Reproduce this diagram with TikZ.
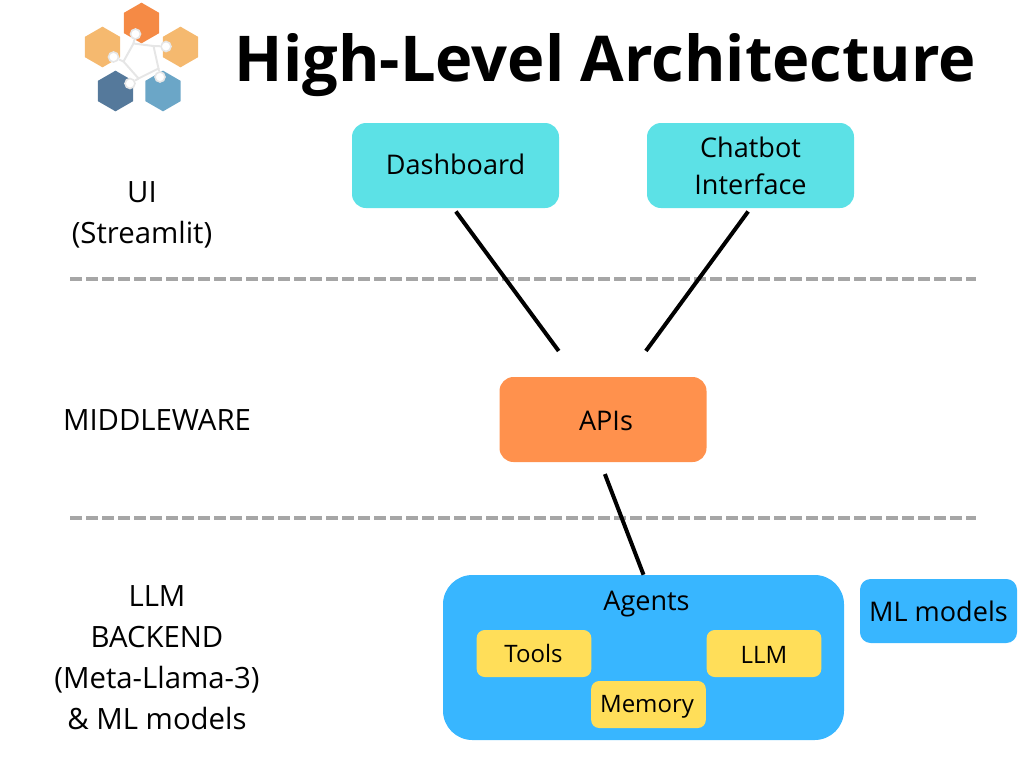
\documentclass[tikz,border=0pt]{standalone}
\usepackage{fontspec}
\setmainfont{Open Sans}
\usetikzlibrary{shapes.geometric, calc, positioning}
\definecolor{uicyan}{HTML}{5CE1E6}
\definecolor{midorange}{HTML}{FF914D}
\definecolor{backblue}{HTML}{38B6FF}
\definecolor{toolyellow}{HTML}{FFDE59}
\definecolor{sepgrey}{HTML}{A6A6A6}
\definecolor{hexorange}{HTML}{F58A45}
\definecolor{hexsand}{HTML}{F5B96F}
\definecolor{hexdark}{HTML}{55799B}
\definecolor{hexlight}{HTML}{6BA6C7}
\definecolor{logoline}{HTML}{E6E6E6}
\tikzset{
  % boxes of the three tiers
  tierbox/.style={rounded corners=10.5pt, minimum width=155.25pt, minimum height=63.75pt,
    inner sep=0pt},
  ui box/.style={tierbox, fill=uicyan},
  mid box/.style={tierbox, fill=midorange},
  agentbox/.style={rounded corners=22pt, fill=backblue, minimum width=300.75pt,
    minimum height=123.75pt, inner sep=0pt},
  mlbox/.style={rounded corners=8pt, fill=backblue, minimum width=117.75pt,
    minimum height=48pt, inner sep=0pt},
  toolbox/.style={rounded corners=6pt, fill=toolyellow, minimum width=86pt,
    minimum height=35.25pt, inner sep=0pt},
  boxlbl/.style={align=center, inner sep=0pt, font=\fontsize{20.3}{27.7}\selectfont},
  toollbl/.style={inner sep=0pt, font=\fontsize{18}{21}\selectfont},
  % left column
  lbl/.style={align=center, inner sep=0pt, font=\fontsize{22}{30.8}\selectfont},
  % connectors and tier separators
  wire/.style={line width=3pt, black},
  sep/.style={line width=3pt, sepgrey, dash pattern=on 9pt off 3pt},
  % logo
  hex/.style={regular polygon, regular polygon sides=6, shape border rotate=30,
    minimum size=30.5pt, inner sep=0pt},
  knob/.style={circle, draw=logoline, line width=1.2pt, fill=white, minimum size=7.5pt, inner sep=0pt},
  logoedge/.style={line width=1.5pt, logoline},
}
\begin{document}
\begin{tikzpicture}[x=0.75pt, y=-0.75pt]
  \useasboundingbox (0,0) rectangle (1024,768);
  % logo
  \node[hex, fill=hexorange] (hexa) at (141.5,23) {};
  \node[hex, fill=hexsand] (hexb) at (102.5,47) {};
  \node[hex, fill=hexsand] (hexc) at (180.5,47) {};
  \node[hex, fill=hexdark] (hexd) at (115.5,91) {};
  \node[hex, fill=hexlight] (hexe) at (163,91) {};
  \coordinate (pa) at (133.5,43.5);
  \coordinate (pb) at (153.5,46);
  \coordinate (pc) at (158.5,68.5);
  \coordinate (pd) at (138.5,78.5);
  \coordinate (pe) at (123.5,61.5);
  \draw[logoedge] (pa) -- (pb) -- (pc) -- (pd) -- (pe) -- cycle;
  \node[knob] (knoba) at (135.5,34) {};
  \node[knob] (knobb) at (166,46.5) {};
  \node[knob] (knobc) at (160,77) {};
  \node[knob] (knobd) at (130,83.5) {};
  \node[knob] (knobe) at (113.5,57) {};
  \draw[logoedge] (pa) -- (knoba);
  \draw[logoedge] (pb) -- (knobb);
  \draw[logoedge] (pc) -- (knobc);
  \draw[logoedge] (pd) -- (knobd);
  \draw[logoedge] (pe) -- (knobe);
  \node[inner sep=0pt, font=\fontsize{47.4}{58}\selectfont\bfseries] (title) at (605.5,65) {High-Level Architecture};

  % tiers
  \node[ui box] (dashboard) at (455.5,165.5) {};
  \node[boxlbl] (dashboardlbl) at (455.5,164.5) {Dashboard};
  \node[ui box] (chatbot) at (750.5,165.5) {};
  \node[boxlbl] (chatbotlbl) at (750.5,166) {Chatbot\\Interface};
  \node[mid box] (apis) at (603,419.5) {};
  \node[boxlbl] (apislbl) at (606,420.5) {APIs};
  \node[agentbox] (agents) at (643.5,657.5) {};
  \node[boxlbl] (agentslbl) at (646.5,604) {Agents};
  \node[toolbox] (tools) at (534,653.5) {};
  \node[toolbox] (llm) at (764,653.5) {};
  \node[toolbox] (memory) at (648.5,704.5) {};
  \node[toollbl] (toolslbl) at (533.5,653.5) {Tools};
  \node[toollbl] (llmlbl) at (764,655) {LLM};
  \node[toollbl] (memorylbl) at (647,706.5) {Memory};
  \node[mlbox] (mlmodels) at (938.5,611) {};
  \node[boxlbl] (mlmodelslbl) at (938.5,611) {ML models};

  % left column
  \node[lbl] (uilbl) at (142,215) {UI\\(Streamlit)};
  \node[lbl] (midlbl) at (157,420) {MIDDLEWARE};
  \node[lbl] (backlbl) at (157,657.5) {LLM\\BACKEND\\(Meta-Llama-3)\\\& ML models};

  % separators
  \coordinate (sepa) at (70,279);
  \coordinate (sepb) at (976,279);
  \coordinate (sepc) at (70,518);
  \coordinate (sepd) at (976,518);
  \draw[sep] (sepa) -- (sepb);
  \draw[sep] (sepc) -- (sepd);

  % connectors
  \draw[wire, shorten <=3pt, shorten >=24pt] ([xshift=-1.5pt]dashboard.south) -- ([xshift=-19pt]apis.north);
  \draw[wire, shorten <=3pt, shorten >=24pt] (chatbot.south) -- ([xshift=18pt]apis.north);
  \draw[wire, shorten <=9.5pt] ([xshift=-2pt]apis.south) -- (agents.north);
\end{tikzpicture}
\end{document}
